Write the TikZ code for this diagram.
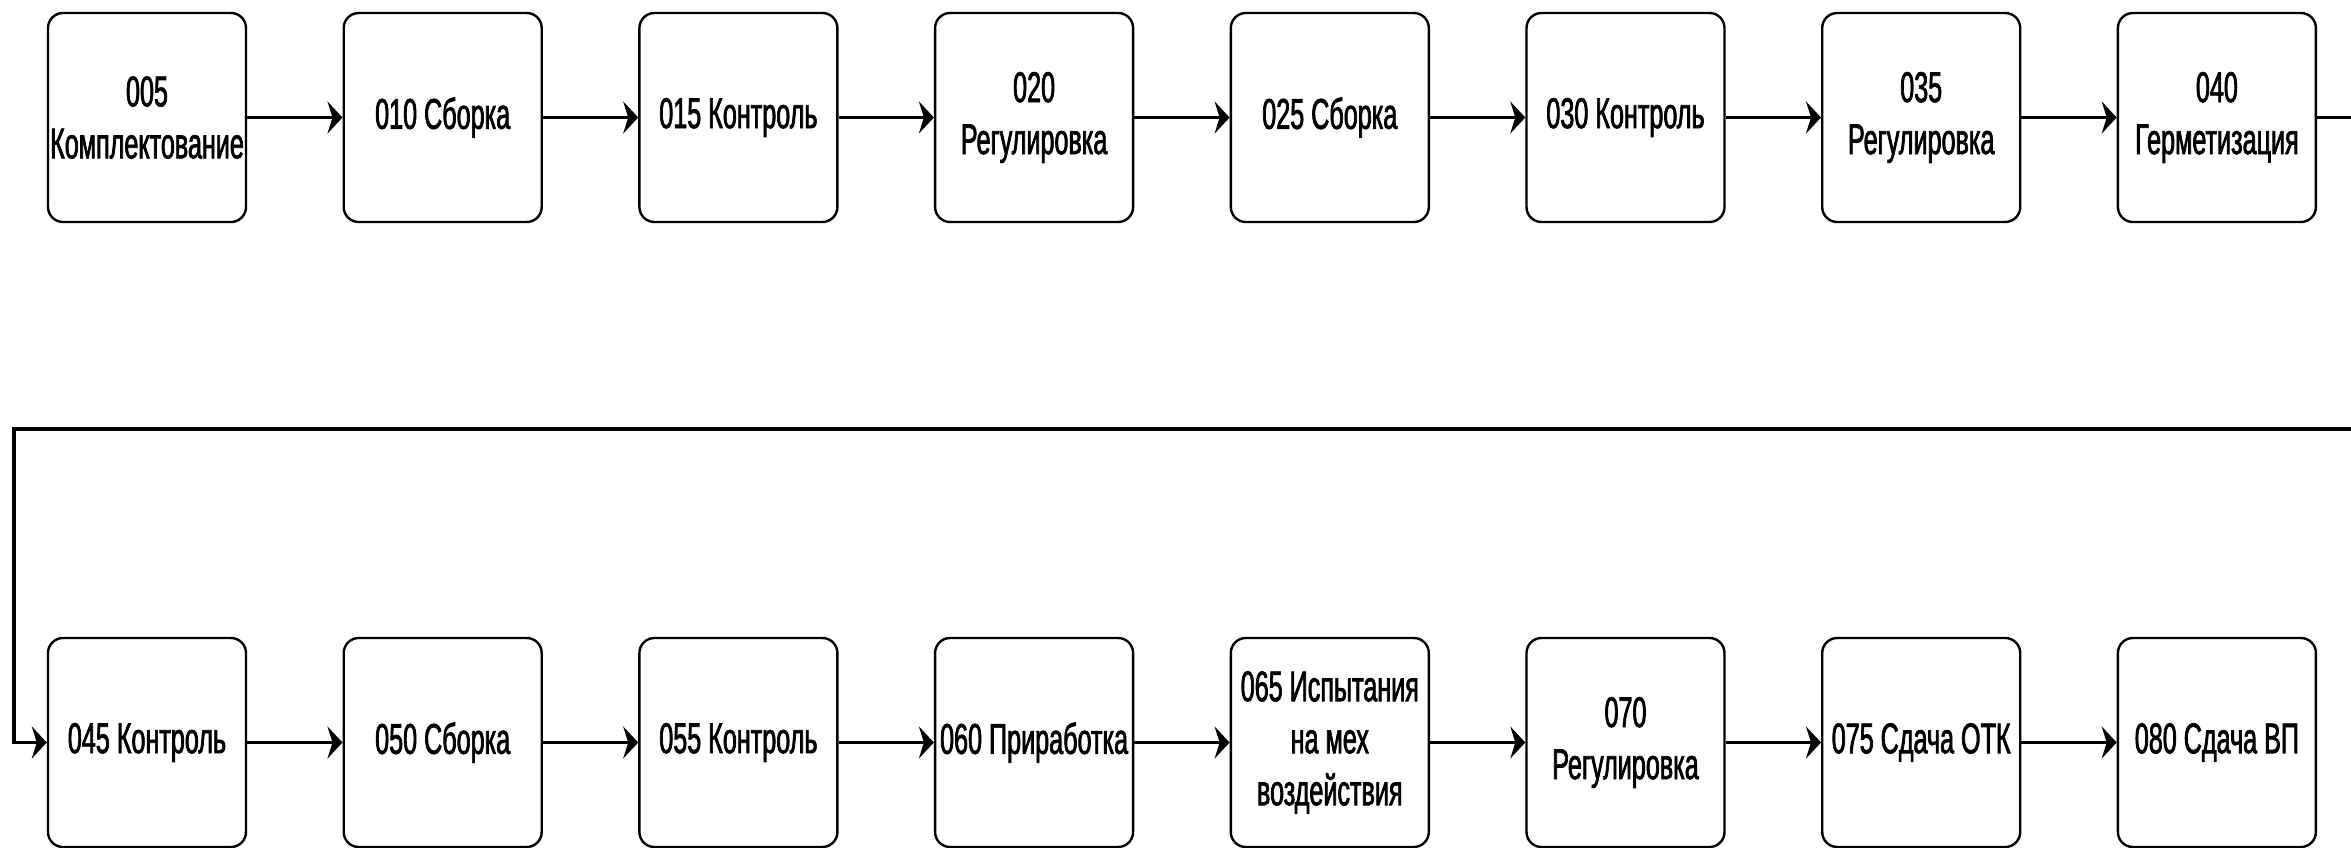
\documentclass[tikz,border=0pt]{standalone}
\usepackage{fontspec}
\setmainfont{Liberation Sans}[FakeStretch=0.585,FakeBold=1.6]
\usetikzlibrary{arrows.meta}

\begin{document}
\begin{tikzpicture}[x=.5pt,y=-.5pt,
  op/.style={draw,line width=1.2pt,rounded corners=7.5pt,minimum width=99pt,minimum height=104.5pt,
    inner sep=0pt,align=center,font=\fontsize{21.5pt}{26pt}\selectfont},
  flow/.style={line width=1.8pt,-{Stealth[length=7.5pt,width=16pt,inset=2.5pt]}}]
\useasboundingbox (0,0) rectangle (2351,847);
\clip (0,0) rectangle (2351,847);
% top row
\node[op] (o005) at (147,117.5) {005\\Комплектование};
\node[op] (o010) at (442.7,117.5) {010 Сборка};
\node[op] (o015) at (738.4,117.5) {015 Контроль};
\node[op] (o020) at (1034.1,117.5) {020\\Регулировка};
\node[op] (o025) at (1329.8,117.5) {025 Сборка};
\node[op] (o030) at (1625.5,117.5) {030 Контроль};
\node[op] (o035) at (1921.2,117.5) {035\\Регулировка};
\node[op] (o040) at (2216.9,117.5) {040\\Герметизация};
% bottom row
\node[op] (o045) at (147,742.5) {045 Контроль};
\node[op] (o050) at (442.7,742.5) {050 Сборка};
\node[op] (o055) at (738.4,742.5) {055 Контроль};
\node[op] (o060) at (1034.1,742.5) {060 Приработка};
\node[op] (o065) at (1329.8,742.5) {065 Испытания\\на мех\\воздействия};
\node[op] (o070) at (1625.5,742.5) {070\\Регулировка};
\node[op] (o075) at (1921.2,742.5) {075 Сдача ОТК};
\node[op] (o080) at (2216.9,742.5) {080 Сдача ВП};
\coordinate (back) at (14,429);
\draw[flow] (o005)--(o010);\draw[flow] (o010)--(o015);
\draw[flow] (o015)--(o020);\draw[flow] (o020)--(o025);
\draw[flow] (o025)--(o030);\draw[flow] (o030)--(o035);
\draw[flow] (o035)--(o040);
\draw[flow] (o040.east) -- ++(80,0) |- (back) |- (o045.west);
\draw[flow] (o045)--(o050);\draw[flow] (o050)--(o055);
\draw[flow] (o055)--(o060);\draw[flow] (o060)--(o065);
\draw[flow] (o065)--(o070);\draw[flow] (o070)--(o075);
\draw[flow] (o075)--(o080);
\end{tikzpicture}
\end{document}
